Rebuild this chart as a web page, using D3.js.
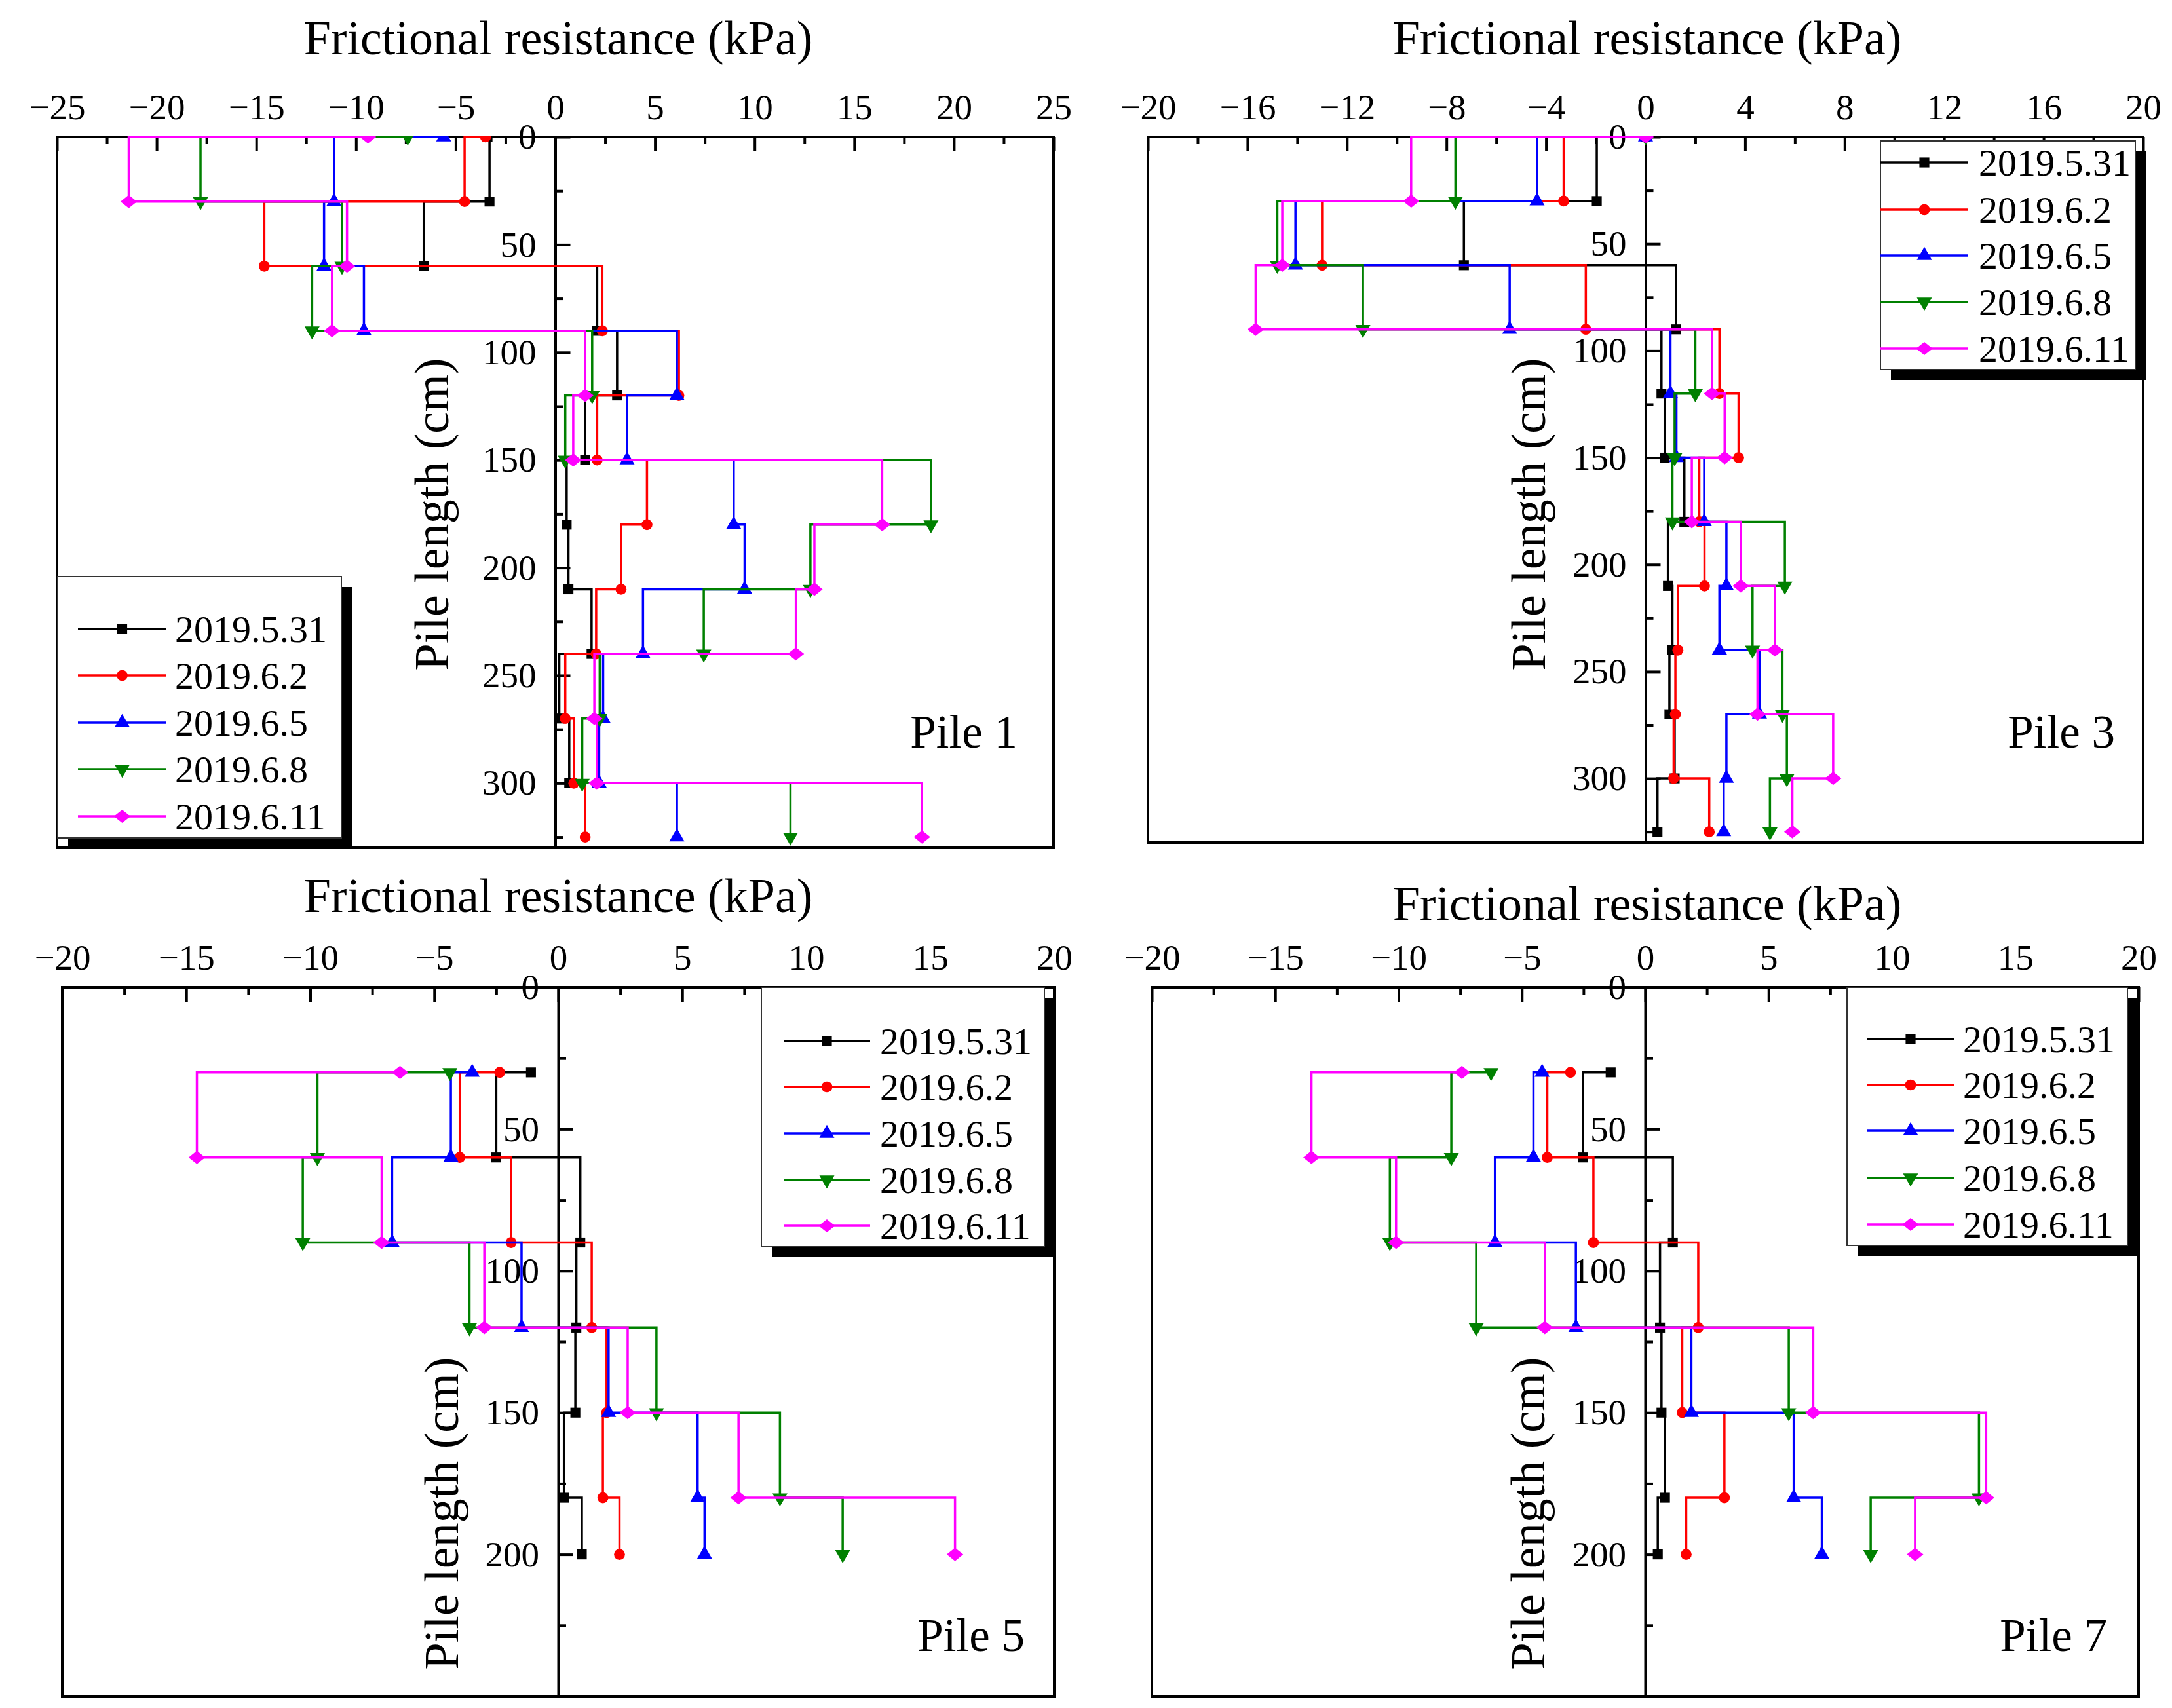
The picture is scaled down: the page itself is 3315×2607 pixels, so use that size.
<!DOCTYPE html>
<html>
<head>
<meta charset="utf-8">
<script src="https://cdn.jsdelivr.net/npm/d3@7"></script>
<style>
  body { margin: 0; background: #fff; }
  svg { display: block; }
</style>
</head>
<body>
<svg id="chart" width="3315" height="2607"></svg>
<script>

// series names and colours
var dates = ["2019.5.31", "2019.6.2", "2019.6.5", "2019.6.8", "2019.6.11"];
var colors = ["#000000", "#ff0000", "#0000ff", "#008000", "#ff00ff"];

// depth levels (cm)
var depthsLong = [0, 30, 60, 90, 120, 150, 180, 210, 240, 270, 300, 325];
var depthsShort = [30, 60, 90, 120, 150, 180, 200];

// Pile 1 (kPa)
var pile1_0531 = [-3.4, -3.3, -6.6, 2.1, 3.1, 1.5, 0.57, 0.66, 1.82, 0.2, 0.7];
var pile1_0602 = [-3.5, -4.55, -14.6, 2.36, 6.2, 2.1, 4.6, 3.3, 2.05, 0.5, 0.93, 1.5];
var pile1_0605 = [-5.6, -11.1, -11.6, -9.6, 6.1, 3.6, 8.95, 9.5, 4.4, 2.4, 2.2, 6.1];
var pile1_0608 = [-7.4, -17.8, -10.7, -12.2, 1.85, 0.5, 18.85, 12.8, 7.45, 2.23, 1.35, 11.8];
var pile1_0611 = [-9.4, -21.4, -10.45, -11.2, 1.5, 0.9, 16.4, 13.0, 12.07, 1.96, 2.08, 18.4];

// Pile 3
var pile3_0531 = [0, -1.96, -7.3, 1.23, 0.64, 0.77, 1.56, 0.9, 1.08, 0.96, 1.17, 0.48];
var pile3_0602 = [0, -3.29, -13.0, -2.4, 2.97, 3.74, 2.16, 2.37, 1.3, 1.2, 1.13, 2.56];
var pile3_0605 = [0, -4.36, -14.07, -5.46, 1.0, 1.24, 2.36, 3.25, 2.97, 4.58, 3.25, 3.14];
var pile3_0608 = [0, -7.64, -14.8, -11.36, 2.0, 1.17, 1.08, 5.6, 4.3, 5.5, 5.68, 5.0];
var pile3_0611 = [0, -9.42, -14.6, -15.67, 2.67, 3.18, 1.86, 3.83, 5.2, 4.5, 7.54, 5.9];

// Pile 5
var pile5_0531 = [-1.1, -2.5, 0.89, 0.73, 0.69, 0.23, 0.95];
var pile5_0602 = [-2.36, -3.97, -1.9, 1.35, 1.95, 1.8, 2.47];
var pile5_0605 = [-3.47, -4.33, -6.7, -1.48, 2.03, 5.62, 5.9];
var pile5_0608 = [-4.37, -9.71, -10.3, -3.58, 3.96, 8.94, 11.47];
var pile5_0611 = [-6.38, -14.57, -7.12, -2.98, 2.8, 7.27, 16.0];

// Pile 7
var pile7_0531 = [-1.4, -2.52, 1.12, 0.6, 0.66, 0.8, 0.51];
var pile7_0602 = [-3.03, -3.97, -2.1, 2.15, 1.5, 3.21, 1.66];
var pile7_0605 = [-4.18, -4.53, -6.09, -2.81, 1.87, 6.02, 7.16];
var pile7_0608 = [-6.25, -7.86, -10.35, -6.85, 5.82, 13.53, 9.14];
var pile7_0611 = [-7.43, -13.53, -10.1, -4.07, 6.81, 13.82, 10.94];

// tick labels
var xTicks25 = [-25, -20, -15, -10, -5, 0, 5, 10, 15, 20, 25];
var xTicks20by4 = [-20, -16, -12, -8, -4, 0, 4, 8, 12, 16, 20];
var xTicks20by5 = [-20, -15, -10, -5, 0, 5, 10, 15, 20];
var yTicksLong = [0, 50, 100, 150, 200, 250, 300];
var yTicksShort = [0, 50, 100, 150, 200];

var axisTitleX = "Frictional resistance (kPa)",
    axisTitleY = "Pile length (cm)";



var svg = d3.select("#chart");
var font = "'Liberation Serif', 'Times New Roman', serif";

var symbols = [
  d3.symbol().type(d3.symbolSquare).size(230)(),
  d3.symbol().type(d3.symbolCircle).size(220)(),
  d3.symbol().type(d3.symbolTriangle).size(230)(),
  d3.symbol().type(d3.symbolTriangle).size(230)(),   // rotated -> down
  d3.symbol().type(d3.symbolDiamond2).size(260)()
];

function midpoints(t) {
  var m = [];
  for (var i = 0; i < t.length - 1; i++) m.push((t[i] + t[i + 1]) / 2);
  return m;
}

function marker(sel, i, px, py) {
  sel.append("path")
     .attr("transform", "translate(" + px + "," + py + ")" + (i == 3 ? " rotate(180)" : "") + (i == 4 ? " scale(1.25,1)" : ""))
     .attr("d", symbols[i])
     .style("fill", colors[i])
     .style("stroke", "none");
}


function drawPanel(p, k) {

  var x = d3.scaleLinear().domain(p.xDom).range([p.left, p.right]);
  var y = d3.scaleLinear().domain(p.yDom).range([p.top, p.bottom]);
  var g = svg.append("g");

  // clip for the data (markers on the top edge are cut in half)
  var clipId = "clip" + k;
  svg.append("clipPath").attr("id", clipId)
     .append("rect")
     .attr("x", p.left - 3).attr("y", p.top - 2)
     .attr("width", p.right - p.left + 6).attr("height", p.bottom - p.top + 4);

  // frame
  g.append("rect")
   .attr("x", p.left).attr("y", p.top)
   .attr("width", p.right - p.left).attr("height", p.bottom - p.top)
   .style("fill", "none").style("stroke", "#000").style("stroke-width", 4);

  // top axis, ticks pointing in
  var xa = g.append("g")
     .attr("transform", "translate(0," + p.top + ")")
     .call(d3.axisTop(x).tickValues(p.xTicks).tickSizeInner(-22).tickSizeOuter(0)
             .tickPadding(27).tickFormat(d3.format("d")));
  var xm = g.append("g")
     .attr("transform", "translate(0," + p.top + ")")
     .call(d3.axisTop(x).tickValues(midpoints(p.xTicks)).tickSizeInner(-11).tickSizeOuter(0).tickFormat(""));
  xa.select(".domain").remove();
  xm.select(".domain").remove();

  // y axis sits at x = 0
  var ya = g.append("g")
     .attr("transform", "translate(" + x(0) + ",0)")
     .call(d3.axisLeft(y).tickValues(p.yTicks).tickSizeInner(-23).tickSizeOuter(0)
             .tickPadding(29).tickFormat(d3.format("d")));
  var ym = g.append("g")
     .attr("transform", "translate(" + x(0) + ",0)")
     .call(d3.axisLeft(y).tickValues(p.yMinor).tickSizeInner(-12).tickSizeOuter(0).tickFormat(""));
  ym.select(".domain").remove();

  [xa, xm, ya, ym].forEach(function(a) {
    a.selectAll("line").style("stroke", "#000").style("stroke-width", 4);
    a.selectAll("path").style("stroke", "#000").style("stroke-width", 4);
    a.selectAll("text")
     .style("font-family", font)
     .style("font-size", "55px")
     .style("fill", "#000");
  });

  // series: horizontal step then vertical drop
  var line = d3.line()
      .x(function(d) { return x(d.v); })
      .y(function(d) { return y(d.d); })
      .curve(d3.curveStepAfter);

  var data = g.append("g").attr("clip-path", "url(#" + clipId + ")");

  p.series.forEach(function(vals, i) {
    var pts = vals.map(function(v, j) { return { v: v, d: p.depths[j] }; });
    data.append("path")
     .datum(pts)
     .attr("d", line)
     .style("fill", "none")
     .style("stroke", colors[i])
     .style("stroke-width", 3.5);
    pts.forEach(function(d) { marker(data, i, x(d.v), y(d.d)); });
  });

  // titles
  g.append("text")
   .attr("x", p.titleX).attr("y", p.titleY)
   .attr("text-anchor", "middle")
   .style("font-family", font).style("font-size", "74px")
   .text(axisTitleX);

  g.append("text")
   .attr("transform", "translate(" + p.yTitleX + "," + p.yTitleY + ") rotate(-90)")
   .attr("text-anchor", "middle")
   .attr("dy", "0.3em")
   .style("font-family", font).style("font-size", "74px")
   .text(axisTitleY);

  g.append("text")
   .attr("x", p.labelX).attr("y", p.labelY)
   .attr("text-anchor", "end")
   .style("font-family", font).style("font-size", "71px")
   .text(p.label);

  // legend with drop shadow
  var L = p.legend;
  g.append("rect")
   .attr("x", L.x + 16).attr("y", L.y + 16).attr("width", L.w).attr("height", L.h)
   .style("fill", "#000");
  g.append("rect")
   .attr("x", L.x).attr("y", L.y).attr("width", L.w).attr("height", L.h)
   .style("fill", "#fff").style("stroke", "#333").style("stroke-width", 2);

  dates.forEach(function(name, i) {
    var ry = L.rows[i];
    g.append("line")
     .attr("x1", L.lineX0).attr("x2", L.lineX1).attr("y1", ry).attr("y2", ry)
     .style("stroke", colors[i]).style("stroke-width", 3.5);
    marker(g, i, (L.lineX0 + L.lineX1) / 2, ry);
    g.append("text")
     .attr("x", L.textX).attr("y", ry).attr("dy", "0.35em")
     .style("font-family", font).style("font-size", "58px")
     .text(name);
  });
}


var panels = [
  { label: "Pile 1", depths: depthsLong,
    series: [pile1_0531, pile1_0602, pile1_0605, pile1_0608, pile1_0611],
    xDom: [-25, 25], xTicks: xTicks25, yDom: [0, 330], yTicks: yTicksLong, yMinor: [25, 75, 125, 175, 225, 275, 325],
    left: 87, right: 1608, top: 209, bottom: 1294,
    titleX: 852, titleY: 83, yTitleX: 662, yTitleY: 785, labelX: 1553, labelY: 1141,
    legend: { x: 88, y: 880, w: 433, h: 399, rows: [960, 1031, 1103, 1174, 1246], lineX0: 119, lineX1: 254, textX: 267 } },
  { label: "Pile 3", depths: depthsLong,
    series: [pile3_0531, pile3_0602, pile3_0605, pile3_0608, pile3_0611],
    xDom: [-20, 20], xTicks: xTicks20by4, yDom: [0, 330], yTicks: yTicksLong, yMinor: [25, 75, 125, 175, 225, 275, 325],
    left: 1752, right: 3271, top: 209, bottom: 1286,
    titleX: 2514, titleY: 83, yTitleX: 2336, yTitleY: 785, labelX: 3228, labelY: 1141,
    legend: { x: 2870, y: 215, w: 389, h: 349, rows: [248, 320, 390, 461, 532], lineX0: 2870, lineX1: 3004, textX: 3020 } },
  { label: "Pile 5", depths: depthsShort,
    series: [pile5_0531, pile5_0602, pile5_0605, pile5_0608, pile5_0611],
    xDom: [-20, 20], xTicks: xTicks20by5, yDom: [0, 250], yTicks: yTicksShort, yMinor: [25, 75, 125, 175, 225],
    left: 95, right: 1609, top: 1507, bottom: 2589,
    titleX: 852, titleY: 1392, yTitleX: 677, yTitleY: 2310, labelX: 1564, labelY: 2520,
    legend: { x: 1162, y: 1507, w: 432, h: 396, rows: [1589, 1659, 1730, 1801, 1871], lineX0: 1196, lineX1: 1328, textX: 1343 } },
  { label: "Pile 7", depths: depthsShort,
    series: [pile7_0531, pile7_0602, pile7_0605, pile7_0608, pile7_0611],
    xDom: [-20, 20], xTicks: xTicks20by5, yDom: [0, 250], yTicks: yTicksShort, yMinor: [25, 75, 125, 175, 225],
    left: 1758, right: 3264, top: 1507, bottom: 2589,
    titleX: 2514, titleY: 1404, yTitleX: 2335, yTitleY: 2310, labelX: 3216, labelY: 2520,
    legend: { x: 2819, y: 1507, w: 428, h: 394, rows: [1586, 1656, 1726, 1798, 1869], lineX0: 2849, lineX1: 2983, textX: 2996 } }
];

panels.forEach(drawPanel);

</script>
</body>
</html>
